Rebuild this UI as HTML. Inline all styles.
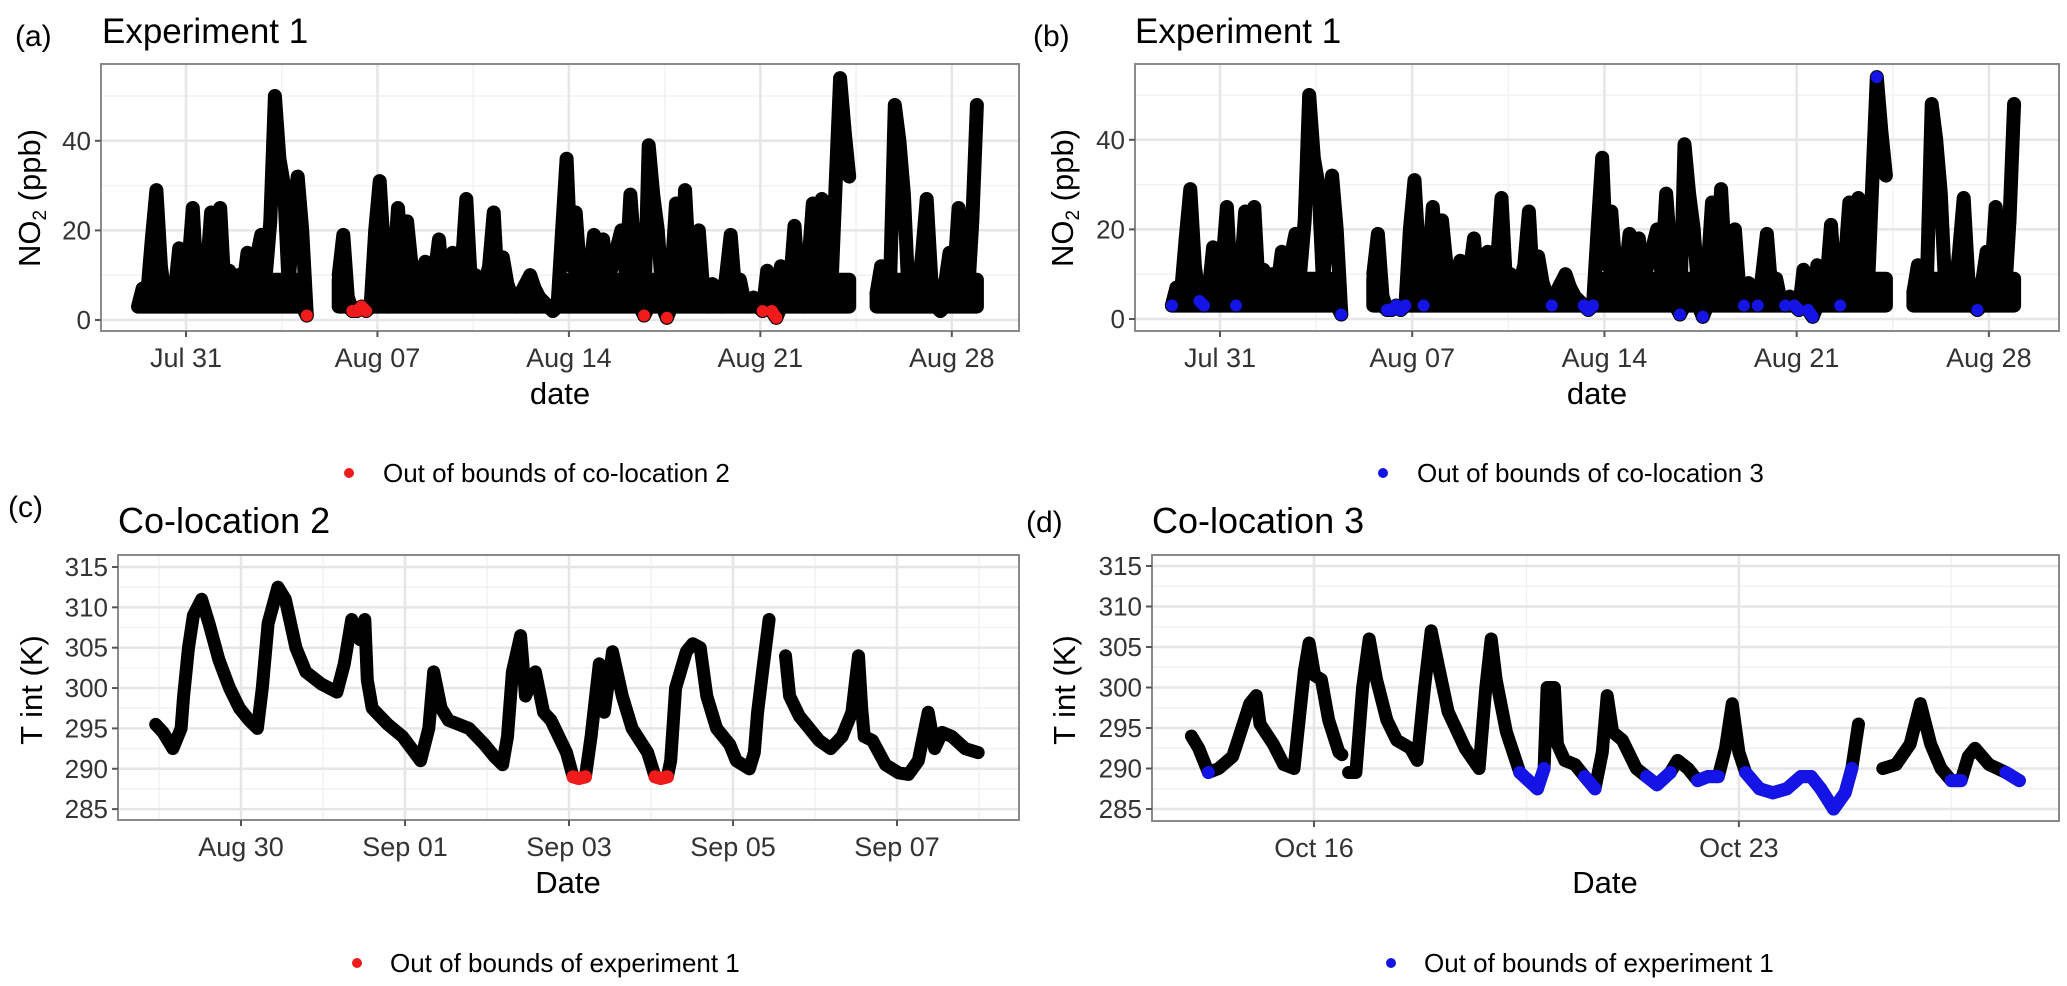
<!DOCTYPE html>
<html><head><meta charset="utf-8"><style>
html,body{margin:0;padding:0;background:#fff}
svg{display:block}
text{font-family:"Liberation Sans",Arial,sans-serif}
</style></head><body>
<svg id="fig" width="2067" height="986" viewBox="0 0 2067 986" xmlns="http://www.w3.org/2000/svg">
<rect width="2067" height="986" fill="#fff"/>
<g id="layer"></g>
</svg>
<script>
// ---- Data (NO2 experiment 1, 4-hour samples, day 0 = Jul 31) ----
const no2Start = -1.75;
const no2Step = 1/6;
const no2Values = [3,7,6,18,29,12,4,3,6,16,8,12,25,6,3,10,24,12,25,6,11,5,10,7,15,5,14,19,10,22,50,36,30,8,22,32,20,1,null,null,null,null,null,null,10,19,5,2,2,3,2,3,20,31,14,3,10,25,9,22,12,6,9,13,5,10,18,5,8,15,6,12,27,8,10,5,8,12,24,6,14,8,5,3,6,8,10,7,5,4,3,2,3,20,36,12,24,10,5,10,19,8,18,9,12,16,20,10,28,14,6,1,39,28,20,6,0.5,10,26,8,29,10,5,20,6,3,8,5,3,10,19,6,9,4,3,5,3,2,11,2,0.5,12,5,8,21,6,3,12,26,8,27,10,5,30,54,42,32,null,null,null,null,null,6,12,4,10,48,40,28,6,10,5,15,27,9,5,2,8,15,10,25,6,5,22,48];
const no2RedIdx = [37,47,48,49,50,111,116,137,139,140];
const no2BlueIdx = [0,6,7,14,37,47,48,49,50,51,55,83,90,91,92,111,116,125,128,134,136,137,139,140,146,154,176];
const no2XTicks = [0,7,14,21,28];
const no2XLabels = ["Jul 31","Aug 07","Aug 14","Aug 21","Aug 28"];
const no2XMinor = [3.5,10.5,17.5,24.5];
const no2YTicks = [0,20,40];
const no2YMinor = [10,30,50];

// ---- Co-location 2 (day 0 = Aug 29) ----
const cTimes = [-0.04,0.05,0.17,0.27,0.3,0.36,0.42,0.52,0.61,0.73,0.86,0.98,1.1,1.2,1.26,1.33,1.45,1.54,1.67,1.79,1.98,2.17,2.26,2.35,2.45,2.51,2.54,2.6,2.79,2.97,3.19,3.29,3.35,3.44,3.53,3.78,3.97,4.09,4.19,4.25,4.31,4.41,4.47,4.59,4.69,4.78,4.97,5.05,5.12,5.2,5.27,5.37,5.43,5.53,5.65,5.77,5.96,6.05,6.12,6.2,6.24,6.3,6.43,6.51,6.6,6.68,6.8,6.96,7.04,7.2,7.26,7.3,7.36,7.44,null,7.64,7.69,7.81,7.93,8.05,8.19,8.33,8.45,8.53,8.57,8.6,8.7,8.86,9.02,9.14,9.26,9.34,9.38,9.46,9.55,9.67,9.83,9.99];
const cValues = [295.5,294.5,292.5,295,299,305,309,311,308,303.5,300,297.5,296,295,300,308,312.5,311,305,302,300.5,299.5,303,308.5,306,308.5,301,297.5,295.5,294,291,295,302,297.5,296,295,293,291.5,290.5,294,302,306.5,299,302,297,296,292,289,288.8,289,294,303,297,304.5,299,295,292,289,288.8,289,291,300,304.5,305.5,305,299,295,293,291,290,292,297,302,308.5,null,304,299,296.5,295,293.5,292.5,294,297,304,297.5,294,293.5,290.5,289.5,289.3,291,295,297,292.5,294.5,294,292.5,292];
const cRedIdx = [47,48,49,57,58,59];
const cXTicks = [1,3,5,7,9];
const cXLabels = ["Aug 30","Sep 01","Sep 03","Sep 05","Sep 07"];
const cXMinor = [0,2,4,6,8,10];

// ---- Co-location 3 (day 0 = Oct 16) ----
const dTimes = [-2.02,-1.9,-1.74,-1.57,-1.34,-1.23,-1.06,-0.95,-0.89,-0.67,-0.5,-0.33,-0.16,-0.08,0.01,0.12,0.24,0.41,0.46,null,0.57,0.69,0.8,0.91,1.03,1.2,1.36,1.59,1.7,1.82,1.93,2.04,2.21,2.49,2.72,2.83,2.92,3.0,3.17,3.39,3.68,3.79,3.84,3.96,4.01,4.13,4.3,4.46,4.63,4.75,4.83,4.92,5.08,5.31,5.48,5.65,5.87,5.99,6.16,6.32,6.49,6.66,6.78,6.89,7.0,7.11,7.34,7.56,7.79,8.02,8.19,8.35,8.56,8.75,8.86,8.97,null,9.37,9.59,9.82,9.99,10.16,10.33,10.5,10.66,10.78,10.89,11.12,11.4,11.62];
const dValues = [294,292.5,289.5,290,291.5,294,298,299,295.5,293,290.5,290,302,305.5,301.5,301,296,292,291.7,null,289.5,289.5,300,306,301,296,293.5,292.5,291,300,307,303,297,292.5,290,300,306,301,294.5,289.5,287.5,290,300,300,293,291,290.5,289,287.5,292,299,294.5,293.5,290,289,288,289.5,291,290,288.5,289,289,292.5,298,292,289.5,287.5,287,287.5,289,289,287.5,285,287,290,295.5,null,290,290.5,293,298,293,290,288.5,288.5,291.5,292.5,290.5,289.5,288.5];
const dBlueIdx = [2,39,40,41,47,48,54,55,56,59,60,61,65,66,67,68,69,70,71,72,73,74,83,84,88,89];
const dXTicks = [0,7];
const dXLabels = ["Oct 16","Oct 23"];
const dXMinor = [3.5,10.5];
const tYTicks = [285,290,295,300,305,310,315];
const tYMinor = [287.5,292.5,297.5,302.5,307.5,312.5];

const NS = "http://www.w3.org/2000/svg";
const layer = document.getElementById('layer');
function mk(tag, attrs, parent){
  const e = document.createElementNS(NS, tag);
  for (const k in attrs) e.setAttribute(k, attrs[k]);
  (parent||layer).appendChild(e);
  return e;
}
function txt(s, x, y, size, anchor, fill, parent){
  const t = mk('text', {x:x, y:y, 'font-size':size, 'text-anchor':anchor||'start', fill:fill||'#000'}, parent);
  t.textContent = s;
  return t;
}

function panel(P){
  const g = mk('g', {});
  
  
  const X = d => P.x0 + d*P.xs;
  const Y = v => P.y0 - (v - P.v0)*P.ys;
  mk('rect', {x:P.L, y:P.T, width:P.R-P.L, height:P.B-P.T, fill:'#fff'}, g);
  const grid = mk('g', {}, g);
  
  
  P.yMinor.forEach(v => { const y=Y(v); if(y>P.T&&y<P.B) mk('line',{x1:P.L,x2:P.R,y1:y,y2:y,stroke:'#f2f2f2','stroke-width':1.5},grid); });
  P.xMinor.forEach(d => { const x=X(d); if(x>P.L&&x<P.R) mk('line',{x1:x,x2:x,y1:P.T,y2:P.B,stroke:'#f2f2f2','stroke-width':1.5},grid); });
  P.yTicks.forEach(v => { const y=Y(v); mk('line',{x1:P.L,x2:P.R,y1:y,y2:y,stroke:'#e6e6e6','stroke-width':2.5},grid); });
  P.xTicks.forEach(d => { const x=X(d); mk('line',{x1:x,x2:x,y1:P.T,y2:P.B,stroke:'#e6e6e6','stroke-width':2.5},grid); });
  const ser = mk('g', {}, g);
  
  
  // optional dense band (for NO2 scatter look)
  if (P.band){
    let seg = [];
    const flush = () => {
      if (seg.length>1){
        let d = '';
        seg.forEach((p,k)=>{ d += (k?'L':'M') + X(p[0]).toFixed(1)+' '+Y(Math.min(p[1],P.band[1])).toFixed(1)+' '; });
        for (let k=seg.length-1;k>=0;k--) d += 'L' + X(seg[k][0]).toFixed(1)+' '+Y(Math.min(seg[k][1],P.band[0])).toFixed(1)+' ';
        const a = mk('path',{d:d+'Z',fill:'#000',stroke:'#000','stroke-width':P.sw,'stroke-linejoin':'round'},ser);
        
        
      }
      seg = [];
    };
    for (let i=0;i<P.vals.length;i++){
      if (P.vals[i]===null){ flush(); continue; }
      seg.push([P.times[i], P.vals[i]]);
    }
    flush();
  }
  let dstr = '', pen = false;
  for (let i=0;i<P.vals.length;i++){
    const v = P.vals[i], t = P.times[i];
    if (v===null || t===null){ pen=false; continue; }
    dstr += (pen?'L':'M') + X(t).toFixed(1) + ' ' + Y(v).toFixed(1) + ' ';
    pen = true;
  }
  const path = mk('path', {d:dstr, fill:'none', stroke:'#000', 'stroke-width':P.sw, 'stroke-linecap':'round', 'stroke-linejoin':'round'}, ser);
  
  
  const fl = mk('g', {}, g);
  
  
  const set = new Set(P.flag);
  P.flag.forEach(i => {
    const v=P.vals[i], t=P.times[i];
    if (v===null) return;
    if (set.has(i+1) && P.vals[i+1]!==null){
      mk('line',{x1:X(t),y1:Y(v),x2:X(P.times[i+1]),y2:Y(P.vals[i+1]),stroke:P.fc,'stroke-width':P.fsw,'stroke-linecap':'round'},fl);
    }
    const c = mk('circle',{cx:X(t),cy:Y(v),r:P.fsw/2,fill:P.fc},fl);
    
    
  });
  mk('rect', {x:P.L, y:P.T, width:P.R-P.L, height:P.B-P.T, fill:'none', stroke:'#8a8a8a', 'stroke-width':2}, g);
  const ax = mk('g', {}, g);
  
  
  P.xTicks.forEach((d,k) => {
    const x=X(d);
    mk('line',{x1:x,x2:x,y1:P.B,y2:P.B+6,stroke:'#555','stroke-width':2},ax);
    const t = txt(P.xLabels[k], x, P.B+36, 27, 'middle', '#333', ax);
    
    
  });
  const ay = mk('g', {}, g);
  
  
  P.yTicks.forEach(v => {
    const y=Y(v);
    mk('line',{x1:P.L-6,x2:P.L,y1:y,y2:y,stroke:'#555','stroke-width':2},ay);
    const t = txt(String(v), P.L-10, y+9, 26, 'end', '#333', ay);
    
    
  });
}

panel({name:'panel-a', L:101, R:1019, T:64, B:331, x0:186, xs:27.35, y0:320, v0:0, ys:4.48,
  times:no2Values.map((v,i)=>no2Start+i*no2Step), vals:no2Values, flag:no2RedIdx, fc:'#f21b1b', sw:14, fsw:12, band:[3,9],
  xTicks:no2XTicks, xLabels:no2XLabels, xMinor:no2XMinor, yTicks:no2YTicks, yMinor:no2YMinor});
panel({name:'panel-b', L:1135, R:2059, T:64, B:331, x0:1220, xs:27.46, y0:319, v0:0, ys:4.48,
  times:no2Values.map((v,i)=>no2Start+i*no2Step), vals:no2Values, flag:no2BlueIdx, fc:'#1414e6', sw:14, fsw:12, band:[3,9],
  xTicks:no2XTicks, xLabels:no2XLabels, xMinor:no2XMinor, yTicks:no2YTicks, yMinor:no2YMinor});
panel({name:'panel-c', L:118, R:1019, T:555, B:820, x0:159, xs:82, y0:567, v0:315, ys:8.07,
  times:cTimes, vals:cValues, flag:cRedIdx, fc:'#f21b1b', sw:13, fsw:13,
  xTicks:cXTicks, xLabels:cXLabels, xMinor:cXMinor, yTicks:tYTicks, yMinor:tYMinor});
panel({name:'panel-d', L:1152, R:2059, T:555, B:821, x0:1314, xs:60.7, y0:566, v0:315, ys:8.1,
  times:dTimes, vals:dValues, flag:dBlueIdx, fc:'#1414e6', sw:13, fsw:13,
  xTicks:dXTicks, xLabels:dXLabels, xMinor:dXMinor, yTicks:tYTicks, yMinor:tYMinor});
</script>
<script>
(function(){
  const fig = document.getElementById('fig');
  const NS2 = "http://www.w3.org/2000/svg";
  function T(s,x,y,size,anchor,name,rot){
    const t = document.createElementNS(NS2,'text');
    t.setAttribute('x',x); t.setAttribute('y',y);
    t.setAttribute('font-size',size);
    t.setAttribute('text-anchor',anchor);
    t.setAttribute('fill','#000');
    if(rot) t.setAttribute('transform','rotate(-90 '+x+' '+y+')');
    t.textContent = s;
    
    
    fig.appendChild(t);
    return t;
  }
  T('(a)',15,46,30,'start','panel-label-a');
  T('(b)',1033,46,30,'start','panel-label-b');
  T('(c)',8,517,30,'start','panel-label-c');
  T('(d)',1026,532,30,'start','panel-label-d');
  T('Experiment 1',102,43,35,'start','title-a');
  T('Experiment 1',1135,43,35,'start','title-b');
  T('Co-location 2',118,533,36,'start','title-c');
  T('Co-location 3',1152,533,36,'start','title-d');
  T('date',560,404,31,'middle','x-axis-title-a');
  T('date',1597,404,31,'middle','x-axis-title-b');
  T('Date',568,893,31,'middle','x-axis-title-c');
  T('Date',1605,893,31,'middle','x-axis-title-d');
  function NO2(x,y,name){
    const t = document.createElementNS(NS2,'text');
    t.setAttribute('x',x); t.setAttribute('y',y);
    t.setAttribute('font-size',31); t.setAttribute('text-anchor','middle');
    t.setAttribute('transform','rotate(-90 '+x+' '+y+')');
    t.innerHTML = 'NO<tspan font-size="19" dy="6">2</tspan><tspan dy="-6"> (ppb)</tspan>';
    
    
    fig.appendChild(t);
  }
  NO2(40,198,'y-axis-title-a');
  NO2(1073,198,'y-axis-title-b');
  T('T int (K)',42,690,31,'middle','y-axis-title-c',true);
  T('T int (K)',1075,690,31,'middle','y-axis-title-d',true);
  function leg(cx,tx,y,color,label,name){
    const g = document.createElementNS(NS2,'g');
    
    
    const c = document.createElementNS(NS2,'circle');
    c.setAttribute('cx',cx); c.setAttribute('cy',y); c.setAttribute('r',5); c.setAttribute('fill',color);
    g.appendChild(c);
    const t = document.createElementNS(NS2,'text');
    t.setAttribute('x',tx); t.setAttribute('y',y+9); t.setAttribute('font-size',26); t.setAttribute('fill','#000');
    t.textContent = label;
    g.appendChild(t);
    fig.appendChild(g);
  }
  leg(349,383,473,'#f21b1b','Out of bounds of co-location 2','legend-a');
  leg(1383,1417,473,'#1414e6','Out of bounds of co-location 3','legend-b');
  leg(357,390,963,'#f21b1b','Out of bounds of experiment 1','legend-c');
  leg(1391,1424,963,'#1414e6','Out of bounds of experiment 1','legend-d');
})();
</script>
</body></html>
